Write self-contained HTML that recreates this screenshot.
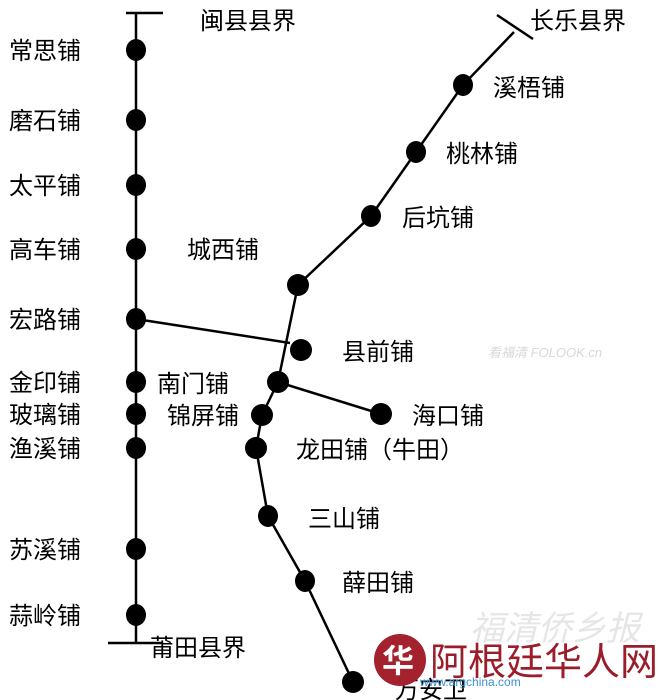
<!DOCTYPE html>
<html><head><meta charset="utf-8"><style>
html,body{margin:0;padding:0;background:#fff;}
svg{display:block}
text{font-family:"Liberation Sans","Noto Sans CJK SC","WenQuanYi Zen Hei",sans-serif;font-size:24px;fill:#000}
</style></head><body>
<svg width="671" height="700" viewBox="0 0 671 700">
<g stroke="#000" stroke-width="2.5" fill="none">
<line x1="136" y1="13" x2="136" y2="643"/>
<line x1="126" y1="13" x2="163" y2="13"/>
<line x1="108" y1="643" x2="162" y2="643"/>
<line x1="497" y1="15" x2="533" y2="39"/>
<polyline points="514,32 463,85 416,152 371,216 298,285 278,382 262,415 256,448 268,516 305,581 353,682"/>
<line x1="136" y1="319" x2="290" y2="343"/>
<line x1="278" y1="382" x2="381" y2="414"/>
</g>
<g fill="#000">
<ellipse cx="136" cy="50" rx="10" ry="11"/>
<ellipse cx="136" cy="120" rx="10" ry="11"/>
<ellipse cx="136" cy="185" rx="10" ry="11"/>
<ellipse cx="136" cy="249" rx="10" ry="11"/>
<ellipse cx="136" cy="319" rx="10" ry="11"/>
<ellipse cx="136" cy="382" rx="10" ry="11"/>
<ellipse cx="136" cy="414" rx="10" ry="11"/>
<ellipse cx="136" cy="448" rx="10" ry="11"/>
<ellipse cx="136" cy="549" rx="10" ry="11"/>
<ellipse cx="136" cy="615" rx="10" ry="11"/>
<ellipse cx="463" cy="85" rx="10" ry="11"/>
<ellipse cx="416" cy="152" rx="10" ry="11"/>
<ellipse cx="371" cy="216" rx="10" ry="11"/>
<ellipse cx="298" cy="285" rx="11" ry="11"/>
<ellipse cx="301" cy="350" rx="11" ry="11"/>
<ellipse cx="278" cy="382" rx="11" ry="11"/>
<ellipse cx="262" cy="415" rx="11" ry="11"/>
<ellipse cx="256" cy="448" rx="11" ry="11"/>
<ellipse cx="381" cy="414" rx="11" ry="11"/>
<ellipse cx="268" cy="516" rx="10" ry="11"/>
<ellipse cx="305" cy="581" rx="10" ry="11"/>
<ellipse cx="353" cy="682" rx="11" ry="11"/>
</g>
<text x="9" y="59">常思铺</text>
<text x="9" y="129">磨石铺</text>
<text x="9" y="194">太平铺</text>
<text x="9" y="258">高车铺</text>
<text x="9" y="328">宏路铺</text>
<text x="9" y="391">金印铺</text>
<text x="9" y="423">玻璃铺</text>
<text x="9" y="457">渔溪铺</text>
<text x="9" y="558">苏溪铺</text>
<text x="9" y="624">蒜岭铺</text>
<text x="200" y="29">闽县县界</text>
<text x="530" y="29">长乐县界</text>
<text x="493" y="96">溪梧铺</text>
<text x="446" y="162">桃林铺</text>
<text x="402" y="226">后坑铺</text>
<text x="187" y="258">城西铺</text>
<text x="342" y="360">县前铺</text>
<text x="157" y="392">南门铺</text>
<text x="167" y="424">锦屏铺</text>
<text x="412" y="424">海口铺</text>
<text x="296" y="458">龙田铺（牛田）</text>
<text x="308" y="527">三山铺</text>
<text x="342" y="591">薛田铺</text>
<text x="150" y="656">莆田县界</text>
<text x="395" y="698">万安卫</text>
<text x="488" y="357" style="font-size:13px;fill:#d8d8d8;font-style:italic">看福清 FOLOOK.cn</text>
<text x="470" y="640" style="font-size:34px;fill:#e6e6e6;font-style:italic">福清侨乡报</text>
<circle cx="400" cy="660" r="26" fill="#a3222e"/>
<text x="382" y="672" style="font-size:32px;fill:#fff;font-weight:bold">华</text>
<text x="430" y="675" style="font-size:38px;fill:#9b1d2a">阿根廷华人网</text>
<text x="420" y="686" style="font-size:12px;fill:#3a8fd0">www.argchina.com</text>
</svg>
</body></html>
